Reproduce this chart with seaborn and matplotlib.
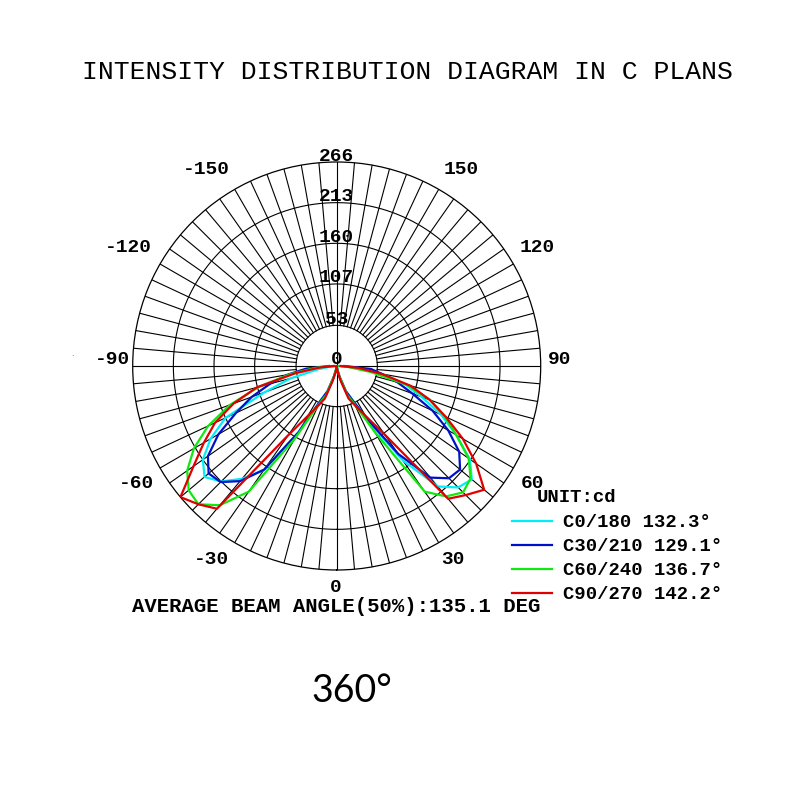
import numpy as np
import pandas as pd
import matplotlib
matplotlib.use("Agg")
import matplotlib.pyplot as plt
import seaborn as sns

# ---------------- data ----------------
GAMMA = list(range(-90, 95, 5))  # degrees, negative = C180.. side

C0_180 = [0, 8, 25, 62, 100, 160, 190, 213, 225, 213, 192, 165, 100, 50, 35, 15, 5, 1,
          0,
          1, 5, 15, 35, 50, 85, 150, 205, 224, 230, 212, 180, 150, 118, 92, 60, 28, 5]
C30_210 = [10, 40, 65, 90, 118, 145, 178, 205, 218, 214, 196, 165, 100, 50, 35, 15, 5, 1,
           0,
           1, 5, 15, 35, 50, 80, 140, 190, 207, 210, 195, 168, 138, 105, 82, 60, 45, 10]
C60_240 = [5, 28, 62, 105, 148, 185, 215, 238, 252, 255, 237, 200, 110, 55, 40, 15, 5, 1,
           0,
           1, 5, 15, 40, 55, 100, 200, 222, 233, 228, 210, 180, 155, 130, 95, 45, 15, 3]
C90_270 = [3, 22, 55, 108, 143, 175, 200, 228, 266, 255, 243, 110, 75, 57, 45, 20, 8, 2,
           0,
           2, 8, 20, 45, 57, 75, 109, 226, 238, 251, 222, 190, 157, 129, 100, 60, 28, 5]

PLANE_LABELS = ["C0/180 132.3°", "C30/210 129.1°", "C60/240 136.7°", "C90/270 142.2°"]
PLANE_COLORS = ["#00EEF8", "#0010C8", "#10E810", "#E00000"]

RING_VALUES = [53, 107, 160, 213, 266]
RING_LABELS = ["53", "107", "160", "213", "266"]
ANGLE_TICKS = ["0", "30", "60", "90", "120", "150", "-150", "-120", "-90", "-60", "-30"]

TITLE = "INTENSITY DISTRIBUTION DIAGRAM IN C PLANS"
BEAM_TEXT = "AVERAGE BEAM ANGLE(50%):135.1 DEG"
UNIT_TEXT = "UNIT:cd"
BIG_TEXT = "360°"

# label centres in pixels (layout only)
ANGLE_LABEL_POS = [(336, 587), (453, 560), (532, 483), (560, 360), (537, 247), (461, 170),
                   (206, 170), (128, 247), (112, 360), (136, 483), (212, 560)]

# ---------------- build table ----------------
rows = []
for lab, vals in zip(PLANE_LABELS, [C0_180, C30_210, C60_240, C90_270]):
    for g, v in zip(GAMMA, vals):
        rows.append({"theta": np.deg2rad(g), "cd": v, "plane": lab})
df = pd.DataFrame(rows)

MONO = "Liberation Mono"
W, H = 801, 800

fig = plt.figure(figsize=(8.01, 8.00), dpi=100)
fig.patch.set_facecolor("white")
ax = fig.add_axes([0.16567, 0.2875, 0.50936, 0.51], projection="polar")
ax.set_theta_zero_location("S")
ax.set_theta_direction(1)
rmax = RING_VALUES[-1]

# grid
ax.grid(False)
ax.set_xticks([])
ax.set_yticks([])
tt = np.linspace(0, 2 * np.pi, 721)
for v in RING_VALUES[:-1]:
    ax.plot(tt, np.full_like(tt, v), color="black", lw=0.8, zorder=1)
for a in range(0, 360, 5):
    r0 = 0 if a % 90 == 0 else RING_VALUES[0]
    ax.plot([np.deg2rad(a)] * 2, [r0, rmax], color="black", lw=0.8, zorder=1)
ax.spines["polar"].set_color("black")
ax.spines["polar"].set_linewidth(0.9)

# curves
sns.lineplot(data=df, x="theta", y="cd", hue="plane", hue_order=PLANE_LABELS,
             palette=PLANE_COLORS, sort=False, estimator=None, lw=1.6, ax=ax,
             legend=True, zorder=3)
ax.set_ylim(0, rmax)
ax.set_xlabel("")
ax.set_ylabel("")

# radial labels
for v, lab in zip([0] + RING_VALUES, ["0"] + RING_LABELS):
    ax.annotate(lab, xy=(np.pi, v), xytext=(0, 6), textcoords="offset pixels",
                ha="center", va="center", fontsize=14, family=MONO, fontweight="bold",
                zorder=5, annotation_clip=False)

# angle labels
for lab, (px, py) in zip(ANGLE_TICKS, ANGLE_LABEL_POS):
    fig.text(px / W, 1 - py / H, lab, ha="center", va="center", fontsize=14,
             family=MONO, fontweight="bold")

# legend
handles, labels = ax.get_legend_handles_labels()
if ax.get_legend() is not None:
    ax.get_legend().remove()
leg = fig.legend(handles, labels, loc="upper left", bbox_to_anchor=(512 / W, 1 - 514 / H),
                 frameon=False, borderpad=0, borderaxespad=0, handlelength=2.1,
                 handletextpad=0.6, labelspacing=0.36,
                 prop={"family": MONO, "weight": "bold", "size": 13.6})
for h in leg.get_lines():
    h.set_linewidth(1.6)

fig.text(537 / W, 1 - 497 / H, UNIT_TEXT, ha="left", va="center", fontsize=13.6,
         family=MONO, fontweight="bold")
fig.text(407.5 / W, 1 - 72 / H, TITLE, ha="center", va="center", fontsize=19,
         family=MONO)
fig.text(336 / W, 1 - 606 / H, BEAM_TEXT, ha="center", va="center", fontsize=14.9,
         family=MONO, fontweight="bold")
fig.text(352 / W, 1 - 691 / H, BIG_TEXT, ha="center", va="center", fontsize=27,
         family="Lato")
fig.text(72 / W, 1 - 354 / H, ".", ha="center", va="center", fontsize=6, color="#444444")

fig.savefig("out.png", dpi=100, facecolor="white")
